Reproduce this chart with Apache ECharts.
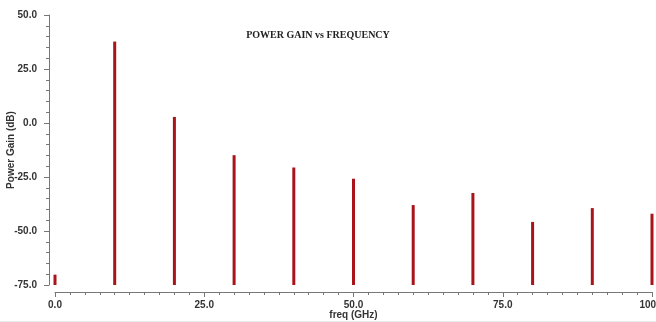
<!DOCTYPE html>
<html>
<head>
<meta charset="utf-8">
<script src="https://cdn.jsdelivr.net/npm/echarts@6/dist/echarts.min.js"></script>
<style>html,body{margin:0;padding:0;background:#fff;}#c{width:656px;height:322px;}</style>
</head>
<body>
<div id="c"></div>
<script>
const freqs = [0, 10, 20, 30, 40, 50, 60, 70, 80, 90, 100];
const gains = [-70.2, 37.7, 2.8, -14.9, -20.6, -25.8, -38.0, -32.4, -45.8, -39.4, -42.0];
const yTicks = [-75, -50, -25, 0, 25, 50];
const xTicks = [0, 25, 50, 75, 100];
const titleText = 'POWER GAIN vs FREQUENCY';
const xName = 'freq (GHz)';
const yName = 'Power Gain (dB)';

const yMin = yTicks[0], yMax = yTicks[yTicks.length - 1];
const xMin = xTicks[0], xMax = xTicks[xTicks.length - 1];

const chart = echarts.init(document.getElementById('c'), null, {renderer: 'canvas'});
const labelStyle = {fontFamily: 'Liberation Sans', fontSize: 10, fontWeight: 'bold', color: '#333'};
chart.setOption({
  animation: false,
  backgroundColor: '#fff',
  title: {
    text: titleText, left: 313, top: 25, textAlign: 'center',
    textStyle: {fontFamily: 'Liberation Serif', fontSize: 10, fontWeight: 'bold', color: '#222'}
  },
  graphic: [{
    type: 'line', shape: {x1: 0, y1: 321.5, x2: 656, y2: 321.5},
    style: {stroke: '#ebebeb', lineWidth: 1}, silent: true
  }],
  grid: {left: 55, right: 4, top: 15, bottom: 37, containLabel: false, outerBoundsMode: 'none'},
  xAxis: {
    type: 'value', min: xMin, max: xMax, interval: 25, offset: 7,
    name: xName, nameLocation: 'middle', nameGap: 18, nameMoveOverlap: false,
    nameTextStyle: {fontFamily: 'Liberation Sans', fontSize: 10, fontWeight: 'bold', color: '#333'},
    axisLine: {show: true, onZero: false, lineStyle: {color: '#777', width: 1}},
    axisTick: {show: true, length: 5, lineStyle: {color: '#777'}},
    minorTick: {show: true, splitNumber: 10, length: 3, lineStyle: {color: '#777'}},
    splitLine: {show: false},
    axisLabel: Object.assign({margin: 8, formatter: v => v.toFixed(1)}, labelStyle)
  },
  yAxis: {
    type: 'value', min: yMin, max: yMax, interval: 25, offset: 6,
    name: yName, nameLocation: 'middle', nameGap: 33, nameRotate: 90, nameMoveOverlap: false,
    nameTextStyle: {fontFamily: 'Liberation Sans', fontSize: 10, fontWeight: 'bold', color: '#333'},
    axisLine: {show: true, onZero: false, lineStyle: {color: '#777', width: 1}},
    axisTick: {show: true, length: 5, lineStyle: {color: '#777'}},
    minorTick: {show: true, splitNumber: 5, length: 3, lineStyle: {color: '#777'}},
    splitLine: {show: false},
    axisLabel: Object.assign({margin: 12, formatter: v => v.toFixed(1)}, labelStyle)
  },
  series: [{
    type: 'custom',
    data: freqs.map((f, i) => [f, gains[i]]),
    renderItem: function (params, api) {
      const top = api.coord([api.value(0), api.value(1)]);
      const bot = api.coord([api.value(0), yMin]);
      return {
        type: 'line',
        shape: {x1: top[0], y1: top[1], x2: bot[0], y2: bot[1]},
        style: {stroke: '#a8141a', lineWidth: 3}
      };
    },
    clip: false
  }]
});
</script>
</body>
</html>
